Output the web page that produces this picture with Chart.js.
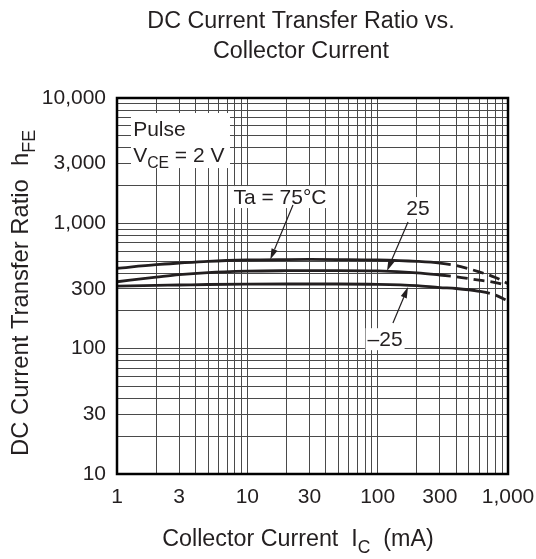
<!DOCTYPE html>
<html>
<head>
<meta charset="utf-8">
<script src="https://cdn.jsdelivr.net/npm/chart.js@4.4.1/dist/chart.umd.min.js"></script>
<style>
  html, body { margin: 0; padding: 0; background: #fff; }
</style>
</head>
<body>
<canvas id="chart" width="536" height="559"></canvas>
<script>
// collector current (mA) and hFE
const currentMA = [1, 2, 3, 5, 10, 20, 30, 50, 100, 200, 300, 400, 600, 800, 1000];
const hfe75 = [438, 468, 482, 498, 510, 514, 515, 514, 510, 497, 482, 460, 410, 370, 330];
const hfe25 = [342, 372, 390, 405, 415, 419, 420, 420, 417, 402, 387, 375, 352, 337, 318];
const hfeMinus25 = [316, 320, 322, 325, 327, 328, 328, 328, 326, 318, 307, 302, 287, 268, 240];
// curves turn dashed from this current on
const dashFrom = [300, 300, 600];

const xTickLabels = [1, 3, 10, 30, 100, 300, 1000];
const yTickLabels = [10, 30, 100, 300, 1000, 3000, 10000];

const INK = '#231f20';
const FONT = '"Liberation Sans", Arial, sans-serif';

// 1..9 per decade for the grid
function decadeGrid(min, max) {
  const out = [];
  for (let p = Math.round(Math.log10(min)); Math.pow(10, p) < max; p++) {
    for (let d = 1; d < 10; d++) out.push({ value: d * Math.pow(10, p) });
  }
  out.push({ value: max });
  return out;
}

const series = [
  { label: 'Ta = 75°C', values: hfe75 },
  { label: '25', values: hfe25 },
  { label: '-25', values: hfeMinus25 }
];

// text with an optional subscript part
function subText(ctx, parts, x, y, size, align) {
  const widths = parts.map(p => {
    ctx.font = (p.sub ? size * 0.75 : size) + 'px ' + FONT;
    return ctx.measureText(p.t).width;
  });
  const total = widths.reduce((a, b) => a + b, 0);
  let cx = align === 'center' ? x - total / 2 : align === 'right' ? x - total : x;
  ctx.textAlign = 'left';
  ctx.textBaseline = 'alphabetic';
  parts.forEach((p, i) => {
    ctx.font = (p.sub ? size * 0.75 : size) + 'px ' + FONT;
    ctx.fillText(p.t, cx, y + (p.sub ? size * 0.28 : 0));
    cx += widths[i];
  });
  return total;
}

// labels with arrows, positions in data units
const notes = [
  { text: 'Ta = 75°C', x: 17.8, y: 1620, fromX: 22.4, fromY: 1400, tipX: 15, tipY: 514 },
  { text: '25', x: 204, y: 1324, fromX: 171, fromY: 1026, tipX: 118, tipY: 417 },
  { text: '\u201325', x: 114, y: 119, fromX: 131, fromY: 160, tipX: 171, tipY: 310 }
];

const annotations = {
  id: 'annotations',
  beforeDatasetsDraw(chart) {
    const ctx = chart.ctx;
    const xs = chart.scales.x, ys = chart.scales.y;
    ctx.save();
    ctx.fillStyle = '#fff';
    // Pulse / VCE box
    const bx = xs.getPixelForValue(1.28), by = ys.getPixelForValue(7590);
    ctx.fillRect(bx, by, xs.getPixelForValue(7.36) - bx, ys.getPixelForValue(2760) - by);
    ctx.font = '21px ' + FONT;
    notes.forEach(n => {
      const w = ctx.measureText(n.text).width;
      const px = xs.getPixelForValue(n.x), py = ys.getPixelForValue(n.y);
      ctx.fillRect(px - w / 2 - 2, py - 11, w + 4, 22);
    });
    ctx.restore();
  },
  afterDatasetsDraw(chart) {
    const ctx = chart.ctx;
    const xs = chart.scales.x, ys = chart.scales.y;
    const a = chart.chartArea;
    ctx.save();
    ctx.fillStyle = INK;
    ctx.strokeStyle = INK;

    const lx = xs.getPixelForValue(1.33);
    subText(ctx, [{ t: 'Pulse' }], lx, ys.getPixelForValue(4975), 21, 'left');
    subText(ctx, [{ t: 'V' }, { t: 'CE', sub: true }, { t: ' = 2 V' }], lx, ys.getPixelForValue(3085), 21, 'left');

    notes.forEach(n => {
      const px = xs.getPixelForValue(n.x), py = ys.getPixelForValue(n.y);
      ctx.font = '21px ' + FONT;
      ctx.textAlign = 'center';
      ctx.textBaseline = 'middle';
      ctx.fillText(n.text, px, py + 1);

      const x0 = xs.getPixelForValue(n.fromX), y0 = ys.getPixelForValue(n.fromY);
      const x1 = xs.getPixelForValue(n.tipX), y1 = ys.getPixelForValue(n.tipY);
      const ang = Math.atan2(y1 - y0, x1 - x0);
      const head = 11, half = 3.2;
      ctx.lineWidth = 1.2;
      ctx.beginPath();
      ctx.moveTo(x0, y0);
      ctx.lineTo(x1 - Math.cos(ang) * head, y1 - Math.sin(ang) * head);
      ctx.stroke();
      ctx.beginPath();
      ctx.moveTo(x1, y1);
      ctx.lineTo(x1 - Math.cos(ang) * head - Math.sin(ang) * half, y1 - Math.sin(ang) * head + Math.cos(ang) * half);
      ctx.lineTo(x1 - Math.cos(ang) * head + Math.sin(ang) * half, y1 - Math.sin(ang) * head - Math.cos(ang) * half);
      ctx.closePath();
      ctx.fill();
    });

    // frame on all four sides
    ctx.lineWidth = 2.5;
    ctx.strokeStyle = '#000';
    ctx.strokeRect(a.left, a.top, a.right - a.left, a.bottom - a.top);
    ctx.restore();
  },
  afterDraw(chart) {
    const ctx = chart.ctx;
    ctx.save();
    ctx.fillStyle = INK;
    ctx.font = '23.3px ' + FONT;
    ctx.textAlign = 'center';
    ctx.textBaseline = 'alphabetic';
    ctx.fillText('DC Current Transfer Ratio vs.', 301, 28);
    ctx.fillText('Collector Current', 301, 58);

    subText(ctx, [{ t: 'Collector Current  I' }, { t: 'C', sub: true }, { t: '  (mA)' }], 298, 546, 23.3, 'center');

    ctx.translate(28, 293);
    ctx.rotate(-Math.PI / 2);
    subText(ctx, [{ t: 'DC Current Transfer Ratio  h' }, { t: 'FE', sub: true }], 0, 0, 23.8, 'center');
    ctx.restore();
  }
};

const ctx = document.getElementById('chart').getContext('2d');
new Chart(ctx, {
  type: 'line',
  data: {
    datasets: series.map((s, i) => ({
      label: s.label,
      data: currentMA.map((c, j) => ({ x: c, y: s.values[j] })),
      borderColor: INK,
      borderWidth: 2.8,
      pointRadius: 0,
      fill: false,
      cubicInterpolationMode: 'monotone',
      segment: {
        borderDash: c => c.p0.parsed.x >= dashFrom[i] ? [11, 6] : undefined
      }
    }))
  },
  options: {
    responsive: false,
    animation: false,
    layout: { padding: { top: 98, right: 28, left: 0, bottom: 0 } },
    plugins: {
      legend: { display: false },
      tooltip: { enabled: false }
    },
    scales: {
      x: {
        type: 'logarithmic',
        min: 1,
        max: 1000,
        afterBuildTicks: scale => { scale.ticks = decadeGrid(1, 1000); },
        afterFit: scale => {
          scale.height = 85;
          // the layout padding already leaves room for the end labels
          scale.paddingLeft = 0;
          scale.paddingRight = 0;
        },
        grid: { color: '#4a4a4a', lineWidth: 1, drawTicks: false },
        border: { display: false },
        ticks: {
          autoSkip: false,
          maxRotation: 0,
          padding: 11,
          color: INK,
          font: { family: FONT, size: 21 },
          callback: v => xTickLabels.includes(v) ? v.toLocaleString('en-US') : ''
        }
      },
      y: {
        type: 'logarithmic',
        min: 10,
        max: 10000,
        afterBuildTicks: scale => { scale.ticks = decadeGrid(10, 10000); },
        afterFit: scale => { scale.width = 117; },
        grid: { color: '#4a4a4a', lineWidth: 1, drawTicks: false },
        border: { display: false },
        ticks: {
          autoSkip: false,
          padding: 11,
          color: INK,
          font: { family: FONT, size: 21 },
          callback: v => yTickLabels.includes(v) ? v.toLocaleString('en-US') : ''
        }
      }
    }
  },
  plugins: [annotations]
});
</script>
</body>
</html>
